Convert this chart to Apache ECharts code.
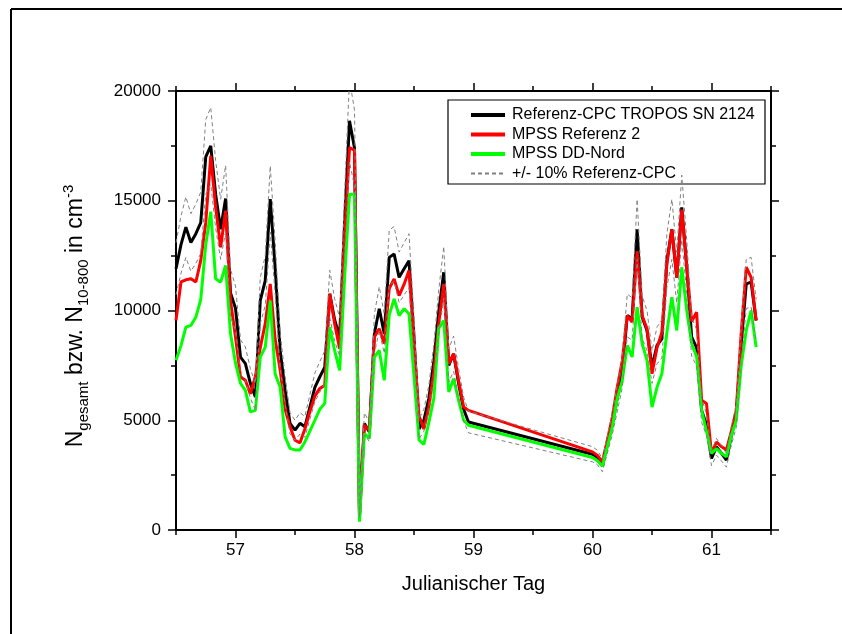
<!DOCTYPE html>
<html>
<head>
<meta charset="utf-8">
<script src="https://cdn.jsdelivr.net/npm/echarts@6/dist/echarts.min.js"></script>
<style>
  html, body { margin: 0; padding: 0; background: #fff; }
  #chart { width: 842px; height: 634px; }
</style>
</head>
<body>
<div id="chart"></div>
<script>
const FONT = '"Liberation Sans", Arial, sans-serif'

// Julian day of each sample (hourly), two measuring periods
const days = [
  56.500, 56.542, 56.583, 56.625, 56.667, 56.708, 56.750, 56.792, 56.833, 56.875,
  56.917, 56.958, 57.000, 57.042, 57.083, 57.125, 57.167, 57.208, 57.250, 57.292,
  57.333, 57.375, 57.417, 57.458, 57.500, 57.542, 57.583, 57.625, 57.667, 57.708,
  57.750, 57.792, 57.833, 57.875, 57.917, 57.958, 58.000, 58.042, 58.083, 58.125,
  58.167, 58.208, 58.250, 58.292, 58.333, 58.375, 58.417, 58.458, 58.500, 58.542,
  58.583, 58.625, 58.667, 58.708, 58.750, 58.792, 58.833, 58.875, 58.917, 58.958,
  60.000, 60.042, 60.083, 60.125, 60.167, 60.208, 60.250, 60.292, 60.333, 60.375,
  60.417, 60.458, 60.500, 60.542, 60.583, 60.625, 60.667, 60.708, 60.750, 60.792,
  60.833, 60.875, 60.917, 60.958, 61.000, 61.042, 61.083, 61.125, 61.167, 61.208,
  61.250, 61.292, 61.333, 61.375,
]

const refCpc = [
  11900, 13000, 13800, 13100, 13500, 14000, 17000, 17500, 15300, 13700,
  15100, 10800, 10100, 7880, 7580, 6680, 6060, 10450, 11360, 15080,
  11970, 8180, 6360, 4860, 4545, 4860, 4700, 5600, 6500, 6970,
  7420, 10760, 9580, 8790, 14000, 18640, 17400, 650, 4850, 4470,
  8940, 10080, 8940, 12420, 12570, 11510, 11900, 12270, 8800, 4600,
  5000, 6000, 7700, 9950, 11740, 7500, 8030, 6670, 5500, 4920,
  3450, 3300, 2950, 3900, 4850, 6000, 7200, 9770, 9620, 13700,
  9700, 9090, 7420, 8410, 8710, 12270, 13700, 11500, 14700, 12000,
  8800, 8300, 5450, 4800, 3260, 3790, 3500, 3180, 4300, 5200,
  8500, 11210, 11290, 9545,
]

const mpssRef2 = [
  9550, 11300, 11400, 11450, 11300, 12270, 14000, 17050, 14700, 12880,
  14550, 10450, 8790, 6970, 6820, 6200, 7000, 8300, 9400, 11210,
  8700, 7300, 5500, 4700, 4090, 3970, 4600, 5400, 6100, 6450,
  6590, 10760, 9400, 8260, 13300, 17420, 17300, 550, 4770, 4545,
  8790, 9170, 8490, 11000, 11440, 10680, 11200, 11820, 8500, 5200,
  4600, 5600, 7200, 9400, 11210, 7570, 8030, 6800, 5600, 5450,
  3560, 3400, 3100, 4100, 5150, 6500, 7700, 9770, 9470, 12700,
  9770, 9170, 7120, 8300, 9000, 12120, 13700, 11510, 14600, 12000,
  9500, 9920, 5910, 5760, 3490, 4010, 3800, 3640, 4500, 5450,
  9000, 11970, 11510, 9545,
]

const mpssDDNord = [
  7730, 8400, 9240, 9320, 9700, 10500, 13000, 14500, 11450, 11290,
  12050, 8950, 7600, 6680, 6360, 5380, 5450, 7880, 8330, 10450,
  7120, 6510, 4240, 3720, 3650, 3640, 4010, 4500, 5000, 5500,
  5770, 9240, 8180, 7270, 11500, 15300, 15300, 380, 4390, 4170,
  7880, 8180, 6820, 9800, 10530, 9770, 10080, 9850, 7000, 4100,
  3900, 4900, 6000, 9200, 9545, 6290, 6890, 5900, 5000, 4770,
  3300, 3150, 2900, 3800, 4700, 6000, 6800, 8410, 7880, 10150,
  8490, 7730, 5600, 6500, 7120, 9000, 10600, 9090, 11970, 10000,
  8500, 7900, 5450, 4500, 3490, 3710, 3500, 3330, 4300, 5000,
  7500, 9090, 10000, 8330,
]

const dayTicks = [57, 58, 59, 60, 61]
const halfTicks = [56.5, 57.5, 58.5, 59.5, 60.5, 61.5]

const names = [
  'Referenz-CPC TROPOS SN 2124',
  'MPSS Referenz 2',
  'MPSS DD-Nord',
  '+/- 10% Referenz-CPC',
]

const pairs = (vals) => vals.map((v, i) => [days[i], v])
const upper = refCpc.map((v) => v * 1.1)
const lower = refCpc.map((v) => v * 0.9)

const axisLine = { show: true, lineStyle: { color: '#000', width: 2 } }
const tickStyle = { color: '#000', width: 1.5 }

function xAx(position, ticks, len, withLine, withLabels) {
  const ax = {
    type: 'value', min: 56.5, max: 61.5, position: position,
    axisLine: withLine ? axisLine : { show: false },
    axisTick: { show: true, inside: false, length: len, customValues: ticks, lineStyle: tickStyle },
    axisLabel: { show: false },
    splitLine: { show: false },
  }
  if (withLabels) {
    ax.axisLabel = {
      show: true, customValues: dayTicks, color: '#000', fontSize: 17,
      fontFamily: FONT, margin: 12,
    }
    ax.name = 'Julianischer Tag'
    ax.nameLocation = 'middle'
    ax.nameGap = 44
    ax.nameTextStyle = { color: '#000', fontSize: 20, fontFamily: FONT }
  }
  return ax
}

function yAx(position, withLabels) {
  return {
    type: 'value', min: 0, max: 20000, interval: 5000, position: position,
    axisLine: axisLine,
    axisTick: { show: true, inside: false, length: 8, lineStyle: tickStyle },
    minorTick: { show: true, splitNumber: 2, length: 5, lineStyle: tickStyle },
    axisLabel: withLabels
      ? { show: true, color: '#000', fontSize: 17, fontFamily: FONT, margin: 15, formatter: (v) => String(v) }
      : { show: false },
    splitLine: { show: false },
  }
}

const chart = echarts.init(document.getElementById('chart'))

chart.setOption({
  animation: false,
  backgroundColor: '#fff',
  grid: { left: 176, right: 71, top: 91, bottom: 104, containLabel: false },
  xAxis: [
    xAx('bottom', dayTicks, 8, true, true),
    xAx('bottom', halfTicks, 5, false, false),
    xAx('top', dayTicks, 8, true, false),
    xAx('top', halfTicks, 5, false, false),
  ],
  yAxis: [yAx('left', true), yAx('right', false)],
  legend: {
    orient: 'vertical', left: 448, top: 107,
    padding: [0, 0, 0, 21],
    itemWidth: 34, itemHeight: 14, itemGap: 3.5,
    itemStyle: { opacity: 0 },
    textStyle: { color: '#000', fontSize: 16, fontFamily: FONT, padding: [0, 0, 0, 2] },
    data: [
      { name: names[0], lineStyle: { width: 4 } },
      { name: names[1], lineStyle: { width: 4 } },
      { name: names[2], lineStyle: { width: 4 } },
      { name: names[3] },
    ],
  },
  graphic: [
    { type: 'line', shape: { x1: 11, y1: 9, x2: 842, y2: 9 }, style: { stroke: '#000', lineWidth: 2 } },
    { type: 'line', shape: { x1: 11, y1: 9, x2: 11, y2: 634 }, style: { stroke: '#000', lineWidth: 2 } },
    { type: 'rect', shape: { x: 448, y: 100, width: 317, height: 84 }, style: { fill: 'none', stroke: '#000', lineWidth: 1.2 } },
    {
      type: 'text', x: 76, y: 316, rotation: Math.PI / 2,
      style: {
        text: '{n|N}{s|gesamt}{n| bzw. N}{s|10-800}{n| in cm}{p|-3}',
        align: 'center', verticalAlign: 'middle', fill: '#000',
        rich: {
          n: { fontSize: 23, fontFamily: FONT, fill: '#000', lineHeight: 30, verticalAlign: 'middle' },
          s: { fontSize: 15, fontFamily: FONT, fill: '#000', lineHeight: 15, verticalAlign: 'bottom' },
          p: { fontSize: 15, fontFamily: FONT, fill: '#000', lineHeight: 15, verticalAlign: 'top' },
        },
      },
    },
  ],
  series: [
    { name: names[0], type: 'line', data: pairs(refCpc), symbol: 'none', lineStyle: { color: '#000', width: 3 }, itemStyle: { color: '#000' } },
    { name: names[1], type: 'line', data: pairs(mpssRef2), symbol: 'none', lineStyle: { color: '#ff0000', width: 3 }, itemStyle: { color: '#ff0000' } },
    { name: names[2], type: 'line', data: pairs(mpssDDNord), symbol: 'none', lineStyle: { color: '#00ff00', width: 3 }, itemStyle: { color: '#00ff00' } },
    { name: names[3], type: 'line', data: pairs(upper), symbol: 'none', lineStyle: { color: '#808080', width: 1, type: [4, 3] }, itemStyle: { color: '#808080' } },
    { name: names[3], type: 'line', data: pairs(lower), symbol: 'none', lineStyle: { color: '#808080', width: 1, type: [4, 3] }, itemStyle: { color: '#808080' } },
  ],
})
</script>
</body>
</html>
